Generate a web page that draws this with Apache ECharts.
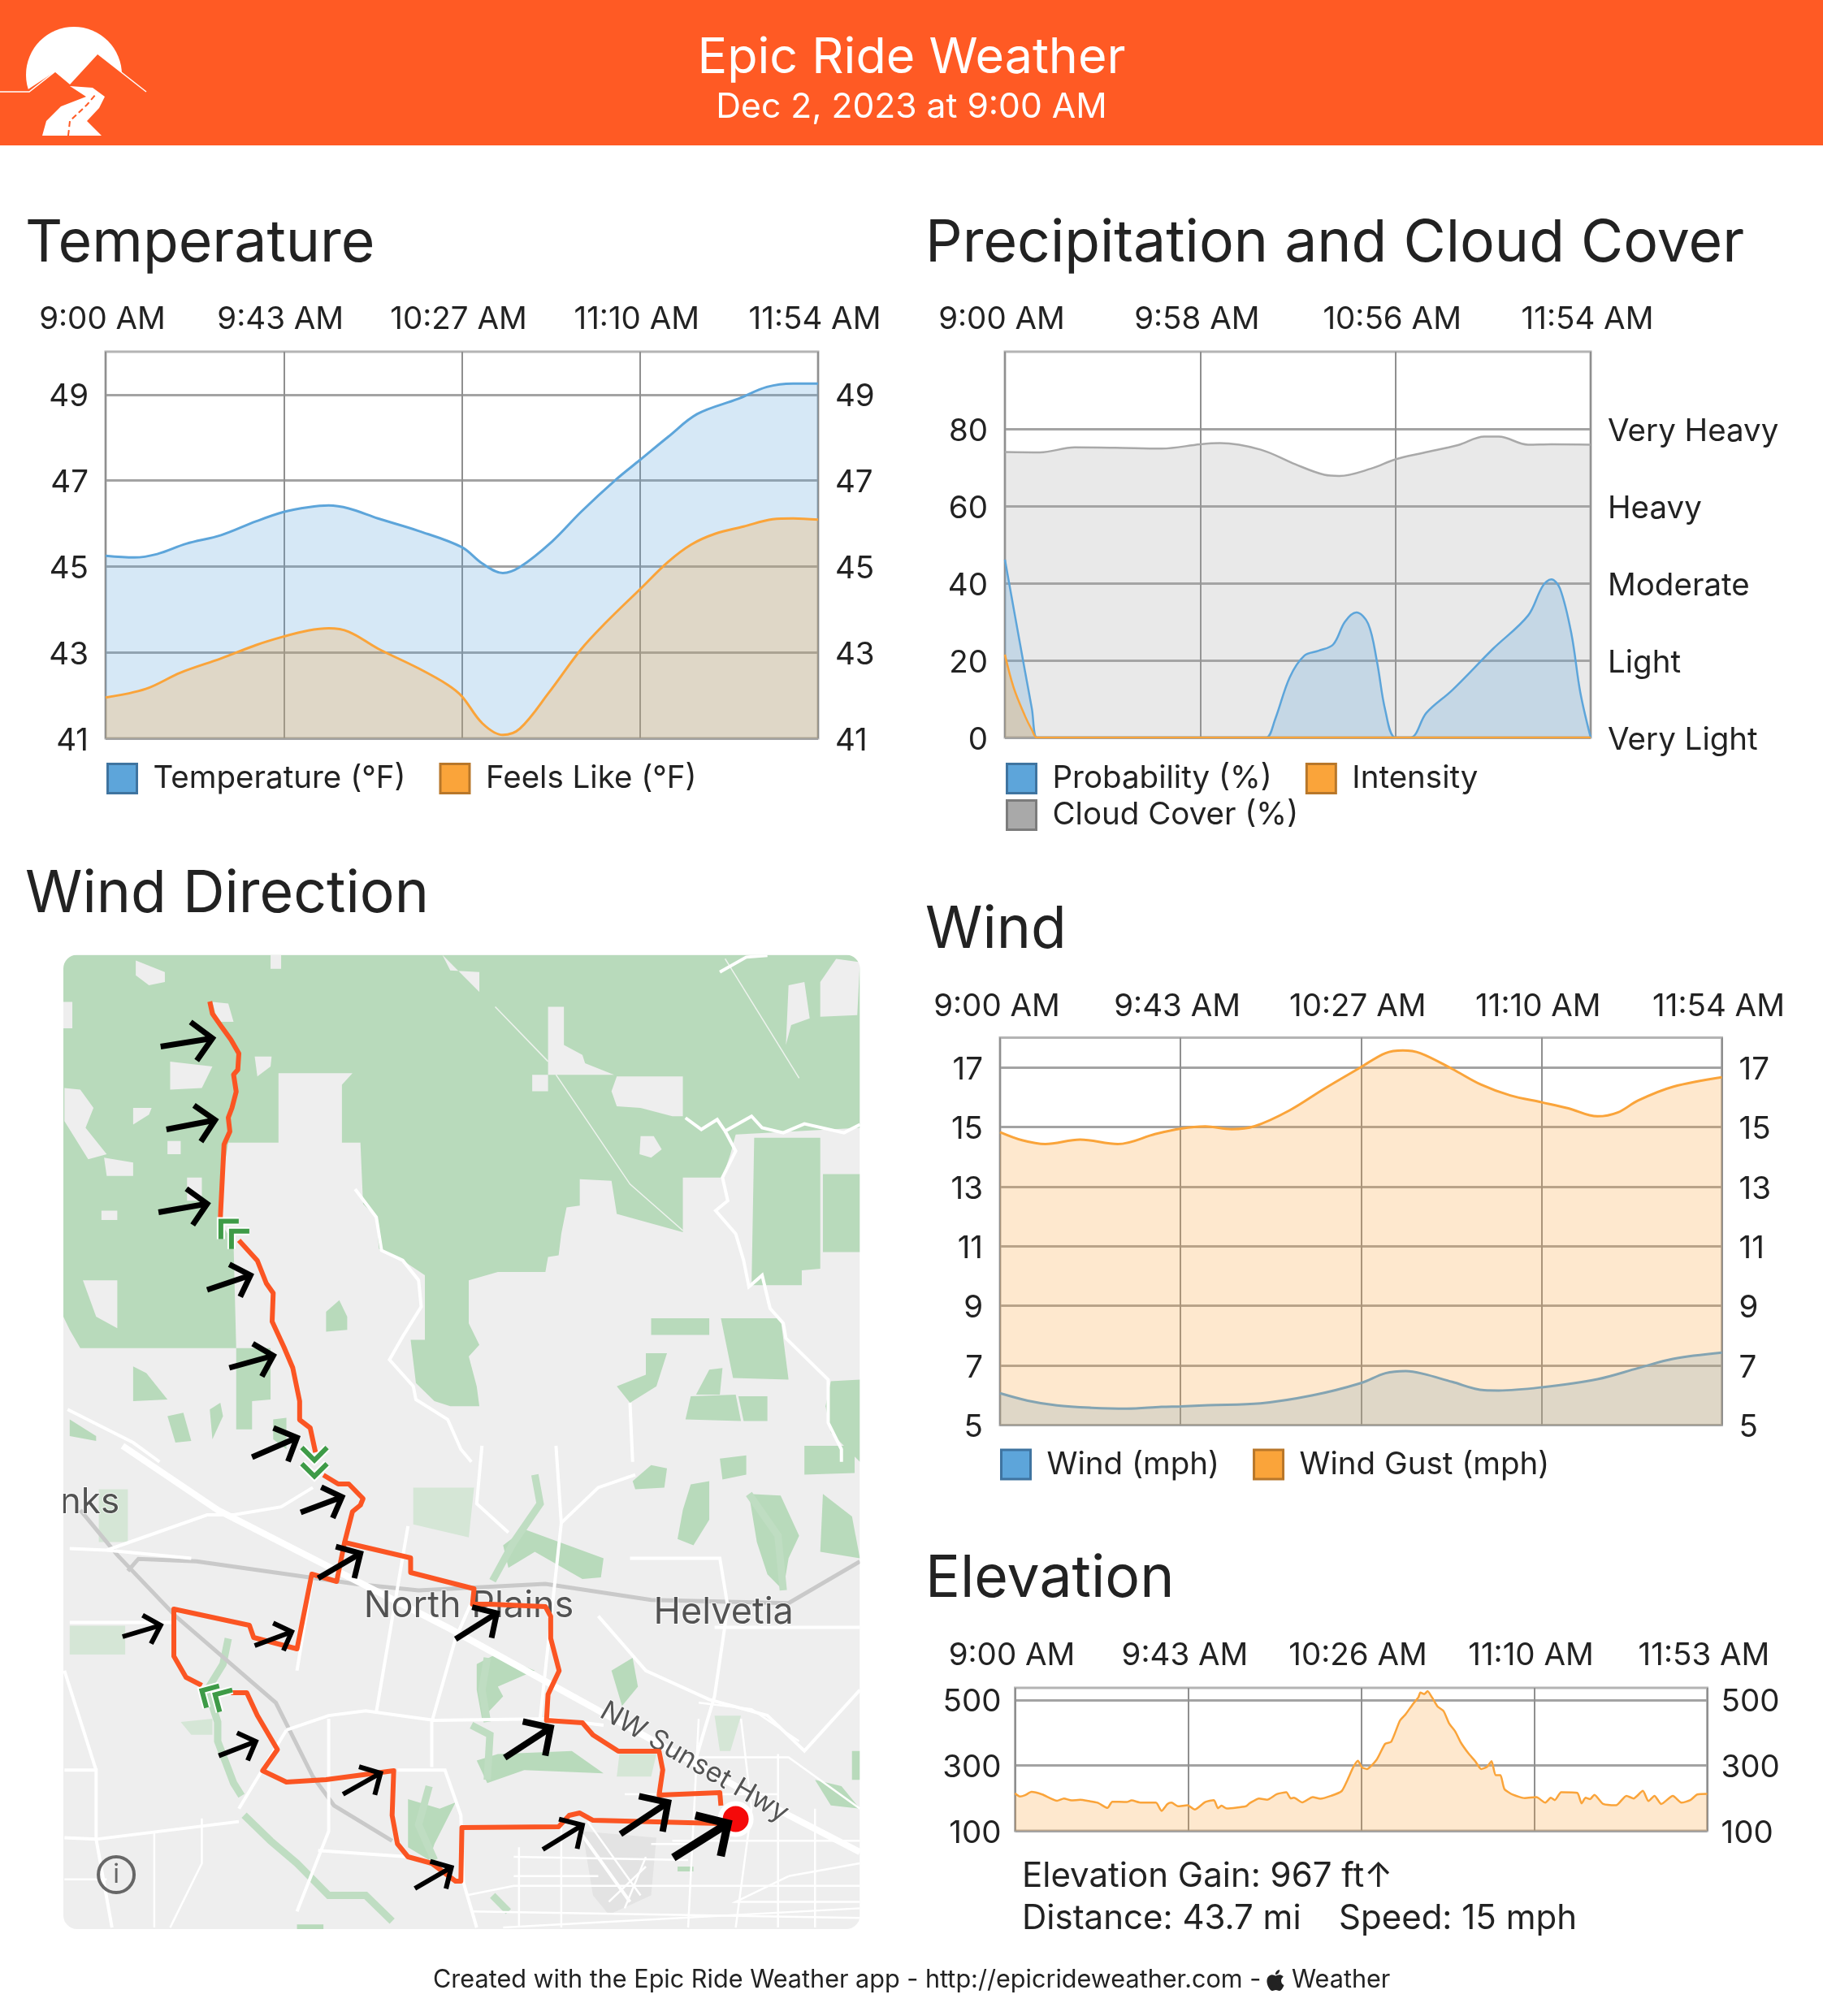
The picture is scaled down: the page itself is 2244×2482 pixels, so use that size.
<!DOCTYPE html>
<html>
<head>
<meta charset="utf-8">
<title>Epic Ride Weather</title>
<script src="https://cdn.jsdelivr.net/npm/echarts@6/dist/echarts.min.js"></script>
<style>
    html, body { margin: 0; padding: 0; background: #fff; }
    #chart { width: 2244px; height: 2482px; }
</style>
</head>
<body>
<div id="chart"></div>
<script>
// temperature, x is minutes after 9:00 AM
var tempTicks = [0, 43.5, 87, 130.5, 174];
var tempTickLabels = ['9:00 AM', '9:43 AM', '10:27 AM', '11:10 AM', '11:54 AM'];
var tempLevels = [41, 43, 45, 47, 49];
var tempMinutes = [0, 7, 12.6, 19.7, 28.2, 36.7, 43.5, 49.5, 54.5, 59.4, 66.5, 76.4, 87, 92, 97, 101.2, 109, 116.1, 124.6, 130.5, 137.4, 144.5, 154.4, 161.5, 167.9, 174];
var tempValues = [45.25, 45.21, 45.29, 45.53, 45.73, 46.05, 46.27, 46.38, 46.42, 46.35, 46.12, 45.83, 45.45, 45.07, 44.85, 44.99, 45.58, 46.27, 47.02, 47.48, 48.02, 48.55, 48.9, 49.18, 49.26, 49.26];
var feelsMinutes = [0, 9.8, 18.3, 28.2, 36.7, 43.5, 49.5, 54.5, 59.4, 66.5, 76.4, 83.5, 87, 92, 97, 101.2, 108.3, 116.1, 121.8, 130.5, 137.4, 143, 148.8, 155.8, 162.9, 167.9, 174];
var feelsValues = [41.95, 42.15, 42.53, 42.86, 43.17, 43.37, 43.51, 43.56, 43.48, 43.09, 42.63, 42.25, 41.98, 41.35, 41.08, 41.23, 42.07, 43.07, 43.66, 44.47, 45.11, 45.51, 45.76, 45.93, 46.1, 46.12, 46.09];

// precipitation and cloud cover
var precipTicks = [0, 58, 116, 174];
var precipTickLabels = ['9:00 AM', '9:58 AM', '10:56 AM', '11:54 AM'];
var precipLevels = [0, 20, 40, 60, 80];
var intensityNames = ['Very Light', 'Light', 'Moderate', 'Heavy', 'Very Heavy'];
var cloudMinutes = [0, 10.4, 20.7, 32.8, 46.6, 58, 63.9, 76, 86.3, 94.9, 99.3, 108.8, 116, 124.3, 134.6, 142.4, 146.7, 155.4, 162.3, 174];
var cloudValues = [74, 73.9, 75.2, 75.1, 74.9, 76, 76.3, 74.6, 70.8, 68.1, 67.8, 69.7, 72.1, 73.8, 75.8, 78, 78, 75.9, 76, 75.9];
var probMinutes = [0, 3, 6, 8, 9.5, 12, 75, 77.7, 80.3, 84.6, 88.9, 93.2, 97.5, 101, 104.4, 107.9, 110.5, 113, 116, 120.5, 125.2, 132.9, 145, 155.4, 159.7, 162.3, 164.9, 168.3, 170.9, 174];
var probValues = [46.1, 31.5, 17, 7.5, 0, 0, 0, 0, 4.8, 15.6, 21.2, 22.5, 24.1, 30, 32.4, 29.5, 19.8, 7, 0, 0, 6.4, 12.3, 23, 31.6, 39.2, 41, 38.6, 26.8, 11.8, 0];
var intensityMinutes = [0, 2.6, 6, 8, 9.5, 12, 174];
var intensityValues = [21.5, 12.9, 5.5, 2, 0, 0, 0];

// wind
var windTicks = [0, 43.5, 87, 130.5, 174];
var windTickLabels = ['9:00 AM', '9:43 AM', '10:27 AM', '11:10 AM', '11:54 AM'];
var windLevels = [5, 7, 9, 11, 13, 15, 17];
var windMinutes = [0, 6.7, 13.7, 22.1, 30.5, 38.9, 43.6, 50.2, 62.8, 75.4, 87, 92.9, 97.8, 102, 109, 116.7, 120.2, 130.6, 144, 153.8, 162.2, 174];
var windValues = [6.07, 5.82, 5.66, 5.58, 5.55, 5.61, 5.63, 5.67, 5.73, 6, 6.41, 6.74, 6.81, 6.72, 6.45, 6.17, 6.16, 6.27, 6.54, 6.91, 7.22, 7.43];
var gustMinutes = [0, 5.3, 10.9, 19.3, 28.4, 37.5, 43.6, 49.5, 55.8, 61.4, 69.8, 78.2, 87, 92.9, 97.1, 101.3, 109, 116, 123, 130.6, 137, 144, 148.9, 153.8, 162.2, 174];
var gustValues = [14.83, 14.56, 14.43, 14.58, 14.43, 14.77, 14.95, 15.02, 14.93, 15.03, 15.56, 16.29, 17.01, 17.48, 17.57, 17.48, 16.95, 16.42, 16.06, 15.83, 15.63, 15.36, 15.49, 15.89, 16.35, 16.67];

// elevation
var elevTicks = [0, 43.25, 86.5, 129.75, 173];
var elevTickLabels = ['9:00 AM', '9:43 AM', '10:26 AM', '11:10 AM', '11:53 AM'];
var elevLevels = [100, 300, 500];
var elevMinutes = [0, 1.2, 2.5, 4.1, 6.8, 10.5, 12.2, 14.1, 16.3, 18.4, 20.6, 23.1, 24.3, 27.9, 29.1, 31.5, 35.2, 36.6, 38.1, 39.1, 40.7, 43.1, 44.9, 47.5, 49.7, 50.7, 51.6, 52.9, 57.7, 58.7, 61, 63, 65.4, 67.8, 68.9, 69.7, 71.8, 74.4, 76.3, 79, 81.6, 83.1, 84.5, 85.7, 86.7, 87.9, 90.4, 92.5, 94, 96.2, 97.6, 99.4, 100.8, 101.3, 102.3, 103.1, 104.2, 105.6, 107.1, 108.5, 110, 111.4, 113.3, 115, 116.5, 118, 119.1, 120.1, 121.3, 122.3, 124.5, 127.4, 130.3, 132.5, 133.9, 134.9, 136.5, 140.5, 141.6, 142.6, 143.7, 144.8, 147, 150.2, 152.8, 154.6, 156.9, 158.3, 159.8, 161.5, 164.4, 166.6, 168.8, 170.5, 173];
var elevValues = [215, 205, 209, 219, 211, 192, 199, 193, 195, 191, 186, 170, 189, 188, 193, 186, 186, 161, 182, 186, 175, 178, 165, 188, 194, 169, 177, 168, 175, 185, 199, 195, 212, 218, 199, 201, 187, 203, 198, 207, 221, 256, 294, 314, 294, 289, 318, 366, 372, 437, 456, 487, 508, 523, 518, 527, 508, 480, 466, 428, 404, 370, 337, 313, 289, 296, 313, 270, 270, 228, 210, 200, 203, 186, 201, 194, 218, 216, 184, 201, 197, 210, 182, 178, 207, 199, 222, 191, 207, 182, 207, 186, 194, 211, 213];

// map shapes, x across the map, y down the map
var northParks = [
    [[28, 38], [1535, 38], [1535, 560], [1300, 580], [1290, 640], [1275, 710], [1200, 710], [1200, 875], [1075, 820], [1065, 720], [1005, 715], [1005, 795], [980, 800], [970, 880], [965, 945], [945, 950], [940, 995], [850, 995], [795, 1020], [795, 1150], [815, 1215], [795, 1250], [810, 1340], [815, 1400], [760, 1400], [730, 1385], [695, 1330], [685, 1200], [712, 1200], [712, 1005], [670, 960], [625, 925], [620, 830], [595, 790], [590, 605], [555, 605], [555, 430], [575, 395], [435, 395], [435, 605], [340, 605], [330, 700], [320, 830], [350, 910], [355, 1225], [60, 1225], [40, 1170], [28, 1130]],
    [[1335, 590], [1460, 590], [1460, 985], [1425, 990], [1425, 1035], [1330, 1035]],
    [[1465, 700], [1535, 700], [1535, 935], [1465, 935]],
    [[1140, 1135], [1250, 1135], [1250, 1185], [1140, 1185]],
    [[1272, 1135], [1385, 1135], [1400, 1320], [1295, 1315]],
    [[1130, 1240], [1170, 1240], [1150, 1340], [1100, 1390], [1075, 1340], [1130, 1305]],
    [[1205, 1440], [1215, 1370], [1300, 1365], [1310, 1445]],
    [[1305, 1370], [1360, 1370], [1360, 1445], [1315, 1445]],
    [[1250, 1290], [1275, 1285], [1270, 1365], [1225, 1365]],
    [[1480, 1325], [1535, 1320], [1535, 1568], [1480, 1480], [1470, 1400]],
    [[355, 1225], [420, 1225], [420, 1380], [385, 1385], [385, 1470], [355, 1470]],
    [[160, 1280], [185, 1300], [225, 1380], [160, 1385]],
    [[525, 1115], [550, 1080], [565, 1130], [565, 1170], [525, 1175]],
    [[225, 1430], [255, 1420], [270, 1505], [240, 1510]],
    [[305, 1410], [325, 1390], [330, 1430], [310, 1500]],
    [[40, 1440], [90, 1490], [90, 1505], [40, 1490]],
    [[425, 1440], [450, 1435], [450, 1530], [425, 1500]]
];
var northClearings = [
    [[945, 195], [975, 195], [975, 310], [1010, 340], [1015, 365], [1070, 400], [945, 400]],
    [[1075, 405], [1200, 405], [1200, 525], [1180, 525], [1120, 500], [1075, 495], [1065, 450]],
    [[915, 400], [945, 400], [945, 450], [915, 450]],
    [[230, 360], [310, 375], [290, 440], [230, 445]],
    [[1400, 130], [1430, 120], [1440, 230], [1405, 250], [1395, 310]],
    [[1490, 50], [1535, 60], [1530, 220], [1460, 225], [1460, 120]],
    [[30, 440], [60, 445], [85, 500], [70, 560], [110, 640], [75, 655], [30, 540]],
    [[105, 650], [160, 665], [160, 705], [110, 705]],
    [[65, 1020], [130, 1020], [130, 1165], [90, 1130]],
    [[165, 55], [220, 90], [220, 120], [190, 130], [165, 100]],
    [[745, 38], [815, 150], [815, 90], [760, 85]],
    [[420, 38], [440, 38], [440, 80], [420, 80]],
    [[28, 180], [45, 180], [45, 260], [28, 260]],
    [[160, 500], [195, 500], [190, 520], [160, 550]],
    [[225, 600], [250, 600], [250, 640], [225, 640]],
    [[100, 810], [130, 810], [130, 838], [100, 838]],
    [[262, 710], [290, 710], [290, 780], [262, 780]],
    [[310, 180], [340, 185], [350, 240], [320, 240]],
    [[390, 345], [422, 345], [420, 375], [395, 405]],
    [[1120, 585], [1145, 585], [1160, 625], [1140, 650], [1118, 640]]
];
var southParks = [
    [[1105, 110], [1140, 60], [1170, 70], [1165, 130], [1110, 135]],
    [[1270, 40], [1320, 30], [1320, 90], [1275, 105]],
    [[1430, 0], [1525, 0], [1525, 85], [1430, 90]],
    [[1190, 290], [1200, 200], [1215, 120], [1250, 110], [1250, 230], [1220, 310]],
    [[1325, 150], [1385, 155], [1420, 280], [1400, 350], [1390, 450], [1360, 400], [1340, 300]],
    [[1465, 150], [1520, 220], [1535, 350], [1460, 330]],
    [[860, 310], [900, 260], [1050, 350], [1045, 410], [1010, 415], [920, 330], [870, 380]],
    [[810, 680], [845, 650], [920, 700], [850, 750], [860, 780], [820, 850], [810, 760]],
    [[1065, 700], [1105, 660], [1115, 750], [1085, 810]],
    [[810, 980], [850, 960], [990, 950], [1050, 1020], [900, 1010], [830, 1050]],
    [[680, 1100], [740, 1130], [770, 1110], [730, 1240], [720, 1290], [680, 1250]],
    [[1450, 1040], [1500, 1060], [1535, 1130], [1480, 1120]],
    [[1520, 950], [1535, 950], [1535, 1040], [1520, 1040]],
    [[470, 1490], [520, 1490], [520, 1505], [470, 1505]],
    [[1190, 1310], [1220, 1310], [1220, 1325], [1190, 1325]]
];
var southCreeks = [
    [[340, 600], [330, 680], [300, 760], [320, 860], [320, 920], [350, 1050], [365, 1090]],
    [[370, 1150], [420, 1230], [470, 1300], [530, 1400], [600, 1400], [650, 1480]],
    [[920, 90], [930, 180], [880, 300], [840, 420]],
    [[830, 660], [820, 760], [830, 860]],
    [[800, 870], [835, 900], [830, 1040]],
    [[1325, 150], [1380, 280], [1390, 450]],
    [[720, 1060], [700, 1180], [730, 1290]],
    [[840, 1400], [870, 1450]]
];
var southPaleParks = [
    [[690, 130], [805, 130], [795, 285], [690, 245]],
    [[40, 560], [145, 560], [145, 650], [40, 650]],
    [[250, 860], [310, 850], [310, 900], [270, 900]],
    [[95, 135], [150, 135], [150, 300], [95, 300]],
    [[1080, 960], [1150, 960], [1140, 1030], [1075, 1030]],
    [[1260, 840], [1310, 840], [1290, 950], [1270, 950]]
];
var southAirport = [
    [[1010, 1200], [1150, 1220], [1140, 1400], [1060, 1460], [1030, 1400]]
];
var northMajorRoads = [
    [[1270, 90], [1320, 45], [1360, 40]],
    [[1205, 530], [1235, 565], [1265, 535], [1280, 570], [1330, 525], [1350, 560], [1390, 575], [1430, 548], [1505, 575], [1535, 550]],
    [[1280, 570], [1300, 630], [1275, 710], [1285, 780], [1262, 810], [1300, 880], [1315, 960], [1325, 1040], [1350, 1005], [1365, 1105], [1390, 1150], [1395, 1195], [1475, 1320], [1475, 1450], [1500, 1530], [1500, 1568]],
    [[580, 745], [620, 830], [630, 930], [670, 960], [700, 1020], [705, 1100], [670, 1190], [645, 1260], [690, 1340], [695, 1380], [755, 1440], [780, 1530], [800, 1568]],
    [[1100, 1390], [1105, 1568]],
    [[36, 1410], [160, 1510], [210, 1568]]
];
var northThinRoads = [
    [[845, 195], [945, 360]],
    [[960, 400], [1100, 730], [1200, 870]],
    [[1280, 50], [1420, 410]]
];
var southHighways = [
    [[140, 0], [320, 200], [760, 570], [1400, 1150], [1535, 1265]]
];
var southMajorRoads = [
    [[40, 320], [110, 325], [270, 350]],
    [[110, 325], [300, 215], [350, 215], [440, 190], [500, 130]],
    [[450, 885], [530, 840], [600, 825], [730, 855], [950, 850], [1050, 870]],
    [[360, 1130], [450, 885]],
    [[360, 1170], [90, 1225], [30, 1220]],
    [[725, 1000], [725, 860], [770, 600], [810, 450]],
    [[620, 830], [680, 250]],
    [[470, 1450], [530, 1200], [530, 850]],
    [[470, 700], [500, 400]],
    [[40, 550], [240, 550]],
    [[1260, 565], [1535, 565]],
    [[1100, 350], [1270, 350], [1285, 500], [1260, 780], [1220, 1000]],
    [[1040, 530], [1130, 700], [1250, 790], [1360, 840], [1430, 950], [1535, 760]],
    [[820, 0], [810, 180], [870, 270]],
    [[960, 0], [970, 240], [930, 850]],
    [[970, 240], [1040, 130], [1110, 90]],
    [[660, 1010], [750, 1010], [780, 1150], [785, 1360], [810, 1500]],
    [[510, 1260], [680, 1280]],
    [[30, 1010], [90, 1010], [90, 1225], [120, 1500]],
    [[30, 700], [90, 1010]],
    [[1000, 1190], [1100, 1420]]
];
var southStreets = [
    [[790, 1400], [880, 1370], [1535, 1370]],
    [[880, 1280], [1210, 1290]],
    [[1230, 850], [1210, 1500]],
    [[1380, 960], [1380, 1500]],
    [[1220, 970], [1400, 970], [1535, 1130]],
    [[1090, 1085], [1380, 1085]],
    [[890, 1250], [890, 1500]],
    [[970, 1180], [970, 1500]],
    [[30, 1350], [110, 1350]],
    [[200, 1200], [200, 1500]],
    [[290, 1160], [290, 1300], [230, 1500]],
    [[1020, 1170], [1120, 1400]],
    [[1130, 1280], [1090, 1440]],
    [[1310, 850], [1330, 1130], [1300, 1500]],
    [[1400, 1340], [1535, 1300]],
    [[1400, 1340], [1300, 1420], [1535, 1420]],
    [[860, 1500], [1535, 1440]],
    [[880, 1340], [1040, 1340]],
    [[1180, 1230], [1535, 1230]],
    [[1450, 1130], [1450, 1500]],
    [[1140, 1240], [1230, 1240]],
    [[800, 1450], [1535, 1470]],
    [[1230, 800], [1330, 820], [1420, 920]],
    [[1130, 1310], [1060, 1420]]
];
var southRails = [
    [[60, 200], [130, 340], [240, 530], [430, 800], [500, 1030], [540, 1120], [650, 1230]],
    [[150, 390], [170, 352], [280, 360], [580, 430], [700, 450], [940, 430], [1140, 480], [1400, 490], [1535, 360]]
];

// route and wind marks
var routeNorth = [[305, 73], [310, 88], [325, 102], [345, 120], [360, 137], [358, 157], [350, 163], [355, 184], [347, 204], [340, 216], [343, 233], [332, 249], [325, 339]];
var routeMiddle = [[360, 367], [395, 392], [412, 420], [425, 432], [423, 467], [445, 498], [462, 524], [475, 565], [475, 588], [495, 598], [505, 628]];
var routeLoopEast = [[520, 656], [548, 667], [568, 667], [595, 685], [590, 693], [575, 701], [560, 739], [685, 758], [685, 776], [805, 796], [802, 815], [835, 815], [940, 818], [950, 830], [950, 857], [966, 897], [945, 926], [942, 958], [1010, 961], [1030, 976], [1078, 996], [1155, 996], [1162, 1019], [1155, 1050], [1270, 1047], [1272, 1063]];
var routeReturn = [[1270, 1085], [1030, 1081], [1005, 1072], [985, 1075], [965, 1089], [782, 1090], [780, 1156], [770, 1156], [725, 1134], [680, 1126], [660, 1110], [650, 1075], [653, 1020], [525, 1031], [450, 1034], [405, 1020], [433, 994], [395, 952], [375, 924], [345, 924]];
var routeWest = [[290, 915], [260, 905], [237, 879], [237, 821], [380, 841], [388, 856], [470, 870], [498, 778], [545, 787], [560, 739]];
var finishPoint = [[1300, 1079.5]];
var infoPoint = [[128, 1148]];
var windArrows = [
    [212, 128.5, 310, 118.3, 7], [223, 230.5, 315, 219, 7], [208, 332.5, 300, 322, 7],
    [300, 428, 382, 410, 7], [342, 524, 425, 509, 7], [385, 634, 470, 610, 7],
    [477, 702, 555, 683, 7], [510, 783, 590, 752.5, 7], [140, 855, 212, 841, 6],
    [390, 866, 460, 849, 6], [770, 858, 848, 826, 7], [322, 1001.6, 392, 984, 6],
    [863, 1004, 950, 967, 8], [557, 1049, 628, 1023, 6], [693, 1165, 762, 1139, 6],
    [935, 1117, 1010, 1087, 6], [1082, 1098, 1172, 1059, 8], [1182, 1127, 1285, 1085, 10]
];
var routeChevrons = [
    [326, 343.5, -135], [346, 355.8, -135],
    [503, 637.8, 90], [503, 657.6, 90],
    [290, 921.3, -150], [315, 926.4, -150]
];
var mapLabels = [
    ['nks', 78, 690, 0, 44],
    ['North Plains', 795, 817, 0, 45],
    ['Helvetia', 1277, 825, 0, 45],
    ['NW Sunset Hwy', 1222, 1009.5, -30, 34]
];

var FONT = 'Inter';
var TEXT_COLOR = '#222222';
var BLUE = '#5DA5DA';
var ORANGE = '#FAA43A';
var GRAY = '#A9A9A9';
var HEADER = '#FF5A24';
var ROUTE = '#FB5523';
var APPLE_PATH = 'M18.71 19.5c-.83 1.24-1.71 2.45-3.05 2.47-1.34.03-1.77-.79-3.29-.79-1.53 0-2 .77-3.27.82-1.31.05-2.3-1.32-3.14-2.53C4.25 17 2.94 12.45 4.7 9.39c.87-1.52 2.43-2.48 4.12-2.51 1.28-.02 2.5.87 3.29.87.78 0 2.26-1.07 3.81-.91.65.03 2.47.26 3.64 1.98-.09.06-2.17 1.28-2.15 3.81.03 3.02 2.65 4.03 2.68 4.04-.03.07-.42 1.44-1.38 2.83M13 3.5c.73-.83 1.94-1.46 2.94-1.5.13 1.17-.34 2.35-1.04 3.19-.69.85-1.83 1.51-2.95 1.42-.15-1.15.41-2.35 1.05-3.11z';

function toNorth(p) {
    return [p[0], p[1] * 0.408];
}

function toSouth(p) {
    return [p[0], p[1] * 0.3954 + 620];
}

function convert(list, fn) {
    return list.map(function (shape) {
        return shape.map(fn);
    });
}

function zip(xs, ys) {
    return xs.map(function (x, i) {
        return [x, ys[i]];
    });
}

function timeAxis(gridIndex, ticks, labels, max, margin) {
    return {
        type: 'value',
        gridIndex: gridIndex,
        position: 'top',
        min: 0,
        max: max,
        axisLine: {show: false},
        axisTick: {show: false, customValues: ticks},
        splitLine: {show: true, lineStyle: {color: '#8f8f8f', width: 2}},
        axisLabel: {
            customValues: ticks,
            margin: margin,
            padding: [0, 8, 0, 0],
            fontSize: 38.5,
            fontFamily: FONT,
            color: TEXT_COLOR,
            formatter: function (v) {
                return labels[ticks.indexOf(v)];
            }
        }
    };
}

function levelAxis(gridIndex, position, levels, min, max, formatter, hideLines) {
    return {
        type: 'value',
        gridIndex: gridIndex,
        position: position,
        min: min,
        max: max,
        axisLine: {show: false},
        axisTick: {show: false, customValues: levels},
        splitLine: {show: !hideLines, lineStyle: {color: '#a3a3a3', width: 3}},
        axisLabel: {
            customValues: levels,
            margin: gridIndex === 3 ? 17 : 21,
            verticalAlign: 'top',
            lineHeight: 6,
            fontSize: 38.5,
            fontFamily: FONT,
            color: TEXT_COLOR,
            formatter: formatter
        }
    };
}

function areaSeries(name, gridIndex, data, color, width, z) {
    return {
        name: name,
        type: 'line',
        xAxisIndex: gridIndex,
        yAxisIndex: gridIndex * 2,
        z: z,
        data: data,
        smooth: 0.35,
        symbol: 'none',
        lineStyle: {color: color, width: width},
        itemStyle: {color: color},
        areaStyle: {color: color, opacity: 0.25}
    };
}

function legendBox(name, color, border) {
    return {name: name, icon: 'rect', itemStyle: {color: color, borderColor: border, borderWidth: 3}};
}

function legendAt(left, top, items) {
    return {
        left: left,
        top: top,
        padding: 0,
        itemWidth: 36,
        itemHeight: 36,
        itemGap: 41,
        selectedMode: false,
        lineStyle: {width: 0, opacity: 0},
        textStyle: {fontSize: 38.5, fontFamily: FONT, color: TEXT_COLOR, padding: [0, 0, 0, 15]},
        data: items
    };
}

function sectionTitle(text, left, top) {
    return {
        text: text,
        left: left,
        top: top,
        padding: 0,
        textStyle: {fontSize: 71.5, fontWeight: 'normal', fontFamily: FONT, color: '#222222'}
    };
}

// custom layer that draws a list of shapes through the map axes
function mapLayer(name, shapes, closed, style, z) {
    return {
        name: name,
        type: 'custom',
        coordinateSystem: 'cartesian2d',
        xAxisIndex: 4,
        yAxisIndex: 8,
        clip: true,
        silent: true,
        z: z,
        data: shapes.map(function (s, i) {
            return [i];
        }),
        renderItem: function (params, api) {
            var points = shapes[params.dataIndex].map(function (p) {
                return api.coord(p);
            });
            return {
                type: closed ? 'polygon' : 'polyline',
                shape: {points: points},
                style: style
            };
        }
    };
}

function routeSeries(data) {
    return {
        type: 'line',
        xAxisIndex: 4,
        yAxisIndex: 8,
        data: data,
        symbol: 'none',
        silent: true,
        z: 6,
        lineStyle: {color: ROUTE, width: 6, join: 'round'}
    };
}

function renderArrow(params, api) {
    var a = windArrows[params.dataIndex];
    var tail = api.coord([a[0], a[1]]);
    var tip = api.coord([a[2], a[3]]);
    var back = Math.atan2(tail[1] - tip[1], tail[0] - tip[0]);
    var len = Math.sqrt(Math.pow(tail[0] - tip[0], 2) + Math.pow(tail[1] - tip[1], 2));
    var barb = len * 0.52;
    var style = {stroke: '#000000', lineWidth: a[4], fill: null};
    return {
        type: 'group',
        children: [{
            type: 'polyline',
            shape: {points: [tail, tip]},
            style: style
        }, {
            type: 'polyline',
            shape: {points: [
                [tip[0] + barb * Math.cos(back - 0.8), tip[1] + barb * Math.sin(back - 0.8)],
                tip,
                [tip[0] + barb * Math.cos(back + 0.8), tip[1] + barb * Math.sin(back + 0.8)]
            ]},
            style: style
        }]
    };
}

function renderChevron(params, api) {
    var c = routeChevrons[params.dataIndex];
    var tip = api.coord([c[0], c[1]]);
    var back = (c[2] + 180) * Math.PI / 180;
    var arm = 22;
    var points = [
        [tip[0] + arm * Math.cos(back - 0.785), tip[1] + arm * Math.sin(back - 0.785)],
        tip,
        [tip[0] + arm * Math.cos(back + 0.785), tip[1] + arm * Math.sin(back + 0.785)]
    ];
    return {
        type: 'group',
        children: [{
            type: 'polyline',
            shape: {points: points},
            style: {stroke: '#ffffff', lineWidth: 10, fill: null}
        }, {
            type: 'polyline',
            shape: {points: points},
            style: {stroke: '#3E9B47', lineWidth: 6, fill: null}
        }]
    };
}

var option = {
    animation: false,
    backgroundColor: '#ffffff',
    title: [
        sectionTitle('Temperature', 31, 264),
        sectionTitle('Precipitation and Cloud Cover', 1139, 264),
        sectionTitle('Wind Direction', 31, 1065),
        sectionTitle('Wind', 1139, 1109),
        sectionTitle('Elevation', 1139, 1908)
    ],
    grid: [
        {left: 130, top: 433, width: 877, height: 476, show: true, borderColor: '#b4b4b4', borderWidth: 3},
        {left: 1237, top: 433, width: 721, height: 475, show: true, borderColor: '#b4b4b4', borderWidth: 3},
        {left: 1231, top: 1277.5, width: 888.5, height: 477, show: true, borderColor: '#b4b4b4', borderWidth: 3},
        {left: 1249.5, top: 2078, width: 852, height: 176, show: true, borderColor: '#b4b4b4', borderWidth: 3},
        {left: 78, top: 1175.5, width: 980.5, height: 1199.5, show: true, backgroundColor: '#EEEEEE', borderWidth: 0}
    ],
    xAxis: [
        timeAxis(0, tempTicks, tempTickLabels, 174, 20),
        timeAxis(1, precipTicks, precipTickLabels, 174, 20),
        timeAxis(2, windTicks, windTickLabels, 174, 19),
        timeAxis(3, elevTicks, elevTickLabels, 173, 20),
        {type: 'value', gridIndex: 4, show: false, min: 28, max: 1535}
    ],
    yAxis: [
        levelAxis(0, 'left', tempLevels, 41, 50),
        levelAxis(0, 'right', tempLevels, 41, 50, null, true),
        levelAxis(1, 'left', precipLevels, 0, 100),
        levelAxis(1, 'right', precipLevels, 0, 100, function (v) {
            return intensityNames[precipLevels.indexOf(v)];
        }, true),
        levelAxis(2, 'left', windLevels, 5, 18),
        levelAxis(2, 'right', windLevels, 5, 18, null, true),
        levelAxis(3, 'left', elevLevels, 100, 537),
        levelAxis(3, 'right', elevLevels, 100, 537, null, true),
        {type: 'value', gridIndex: 4, show: false, inverse: true, min: 15.5, max: 1215}
    ],
    legend: [
        legendAt(131, 939, [legendBox('Temperature (°F)', BLUE, '#3F74A0'), legendBox('Feels Like (°F)', ORANGE, '#B8772A')]),
        legendAt(1238, 939, [legendBox('Probability (%)', BLUE, '#3F74A0'), legendBox('Intensity', ORANGE, '#B8772A')]),
        legendAt(1238, 984, [legendBox('Cloud Cover (%)', GRAY, '#7C7C7C')]),
        legendAt(1231, 1783.5, [legendBox('Wind (mph)', BLUE, '#3F74A0'), legendBox('Wind Gust (mph)', ORANGE, '#B8772A')])
    ],
    series: [
        areaSeries('Temperature (°F)', 0, zip(tempMinutes, tempValues), BLUE, 3, 2),
        areaSeries('Feels Like (°F)', 0, zip(feelsMinutes, feelsValues), ORANGE, 3, 3),
        areaSeries('Cloud Cover (%)', 1, zip(cloudMinutes, cloudValues), GRAY, 2.5, 2),
        areaSeries('Probability (%)', 1, zip(probMinutes, probValues), BLUE, 2.5, 3),
        areaSeries('Intensity', 1, zip(intensityMinutes, intensityValues), ORANGE, 2.5, 4),
        areaSeries('Wind (mph)', 2, zip(windMinutes, windValues), BLUE, 3, 2),
        areaSeries('Wind Gust (mph)', 2, zip(gustMinutes, gustValues), ORANGE, 3, 3),
        {
            name: 'Elevation',
            type: 'line',
            xAxisIndex: 3,
            yAxisIndex: 6,
            data: zip(elevMinutes, elevValues),
            symbol: 'none',
            smooth: 0.2,
            lineStyle: {color: ORANGE, width: 2.5},
            areaStyle: {color: ORANGE, opacity: 0.25}
        },
        mapLayer('palePark', convert(southPaleParks, toSouth), true, {fill: '#D5E6D6'}, 1),
        mapLayer('airport', convert(southAirport, toSouth), true, {fill: '#E3E3E3'}, 1),
        mapLayer('park', convert(northParks, toNorth).concat(convert(southParks, toSouth)), true, {fill: '#B8DABB'}, 2),
        mapLayer('creek', convert(southCreeks, toSouth), false, {stroke: '#BFDDC2', lineWidth: 9, fill: null}, 2),
        mapLayer('clearing', convert(northClearings, toNorth), true, {fill: '#EEEEEE'}, 2.5),
        mapLayer('rail', convert(southRails, toSouth), false, {stroke: '#C9C9C9', lineWidth: 5, fill: null}, 3),
        mapLayer('thinRoad', convert(northThinRoads, toNorth), false, {stroke: '#EEF3EE', lineWidth: 1.5, fill: null}, 3),
        mapLayer('street', convert(southStreets, toSouth), false, {stroke: '#FFFFFF', lineWidth: 2.5, fill: null}, 3),
        mapLayer('road', convert(northMajorRoads, toNorth).concat(convert(southMajorRoads, toSouth)), false, {stroke: '#FFFFFF', lineWidth: 4, fill: null}, 4),
        mapLayer('highway', convert(southHighways, toSouth), false, {stroke: '#FFFFFF', lineWidth: 8, fill: null}, 4),
        {
            name: 'labels',
            type: 'scatter',
            xAxisIndex: 4,
            yAxisIndex: 8,
            silent: true,
            z: 5,
            symbolSize: 1,
            itemStyle: {color: 'transparent'},
            data: mapLabels.map(function (m) {
                return {
                    value: [m[1], m[2]],
                    label: {
                        show: true,
                        formatter: m[0],
                        position: 'inside',
                        rotate: m[3],
                        fontSize: m[4],
                        fontFamily: FONT,
                        color: '#2a2a2a',
                        textBorderColor: '#ffffff',
                        textBorderWidth: 2
                    }
                };
            })
        },
        routeSeries(routeNorth),
        routeSeries(routeMiddle),
        routeSeries(routeLoopEast),
        routeSeries(routeReturn),
        routeSeries(routeWest),
        {
            name: 'chevrons',
            type: 'custom',
            coordinateSystem: 'cartesian2d',
            xAxisIndex: 4,
            yAxisIndex: 8,
            silent: true,
            z: 7,
            data: routeChevrons.map(function (c, i) {
                return [i];
            }),
            renderItem: renderChevron
        },
        {
            name: 'finish',
            type: 'scatter',
            xAxisIndex: 4,
            yAxisIndex: 8,
            silent: true,
            z: 7,
            data: finishPoint,
            symbolSize: 38,
            itemStyle: {color: '#F50A0A', borderColor: '#ffffff', borderWidth: 6, opacity: 1}
        },
        {
            name: 'windArrows',
            type: 'custom',
            coordinateSystem: 'cartesian2d',
            xAxisIndex: 4,
            yAxisIndex: 8,
            silent: true,
            z: 8,
            data: windArrows.map(function (a, i) {
                return [i];
            }),
            renderItem: renderArrow
        },
        {
            name: 'info',
            type: 'scatter',
            xAxisIndex: 4,
            yAxisIndex: 8,
            silent: true,
            z: 8,
            data: infoPoint,
            symbolSize: 44,
            itemStyle: {color: 'transparent', borderColor: '#666666', borderWidth: 4, opacity: 1},
            label: {show: true, position: 'inside', formatter: 'i', fontSize: 32, fontFamily: FONT, color: '#666666'}
        },
        {
            name: 'apple',
            type: 'custom',
            coordinateSystem: 'none',
            silent: true,
            data: [[0]],
            renderItem: function () {
                return {
                    type: 'path',
                    shape: {pathData: APPLE_PATH, x: 1559, y: 2425, width: 22, height: 26},
                    style: {fill: '#222222'}
                };
            }
        }
    ],
    graphic: [
        {type: 'rect', z: 0, shape: {x: 0, y: 0, width: 2244, height: 179}, style: {fill: HEADER}},
        {type: 'circle', z: 1, shape: {cx: 91, cy: 92, r: 59}, style: {fill: '#ffffff'}},
        {type: 'polygon', z: 2, shape: {points: [[30, 113], [68, 88], [86, 103], [120, 66], [180, 113], [180, 155], [30, 155]]}, style: {fill: HEADER}},
        {type: 'polyline', z: 3, shape: {points: [[0, 113], [36, 113], [68, 88], [86, 103], [120, 66], [180, 113]]}, style: {stroke: '#ffffff', lineWidth: 1.5, fill: null}},
        {type: 'polygon', z: 3, shape: {points: [[52, 167], [57, 149], [75, 131], [106, 119], [86, 106], [114, 108], [129, 119], [122, 133], [107, 149], [125, 167]]}, style: {fill: '#ffffff'}},
        {type: 'polyline', z: 4, shape: {points: [[84, 167], [86, 149], [107, 129], [118, 116]]}, style: {stroke: HEADER, lineWidth: 2, lineDash: [7, 4], fill: null}},
        {type: 'text', z: 5, style: {x: 1122, y: 72, text: 'Epic Ride Weather', fill: '#ffffff', font: '61px Inter', align: 'center', verticalAlign: 'middle'}},
        {type: 'text', z: 5, style: {x: 1122, y: 132.5, text: 'Dec 2, 2023 at 9:00 AM', fill: '#ffffff', font: '42.6px Inter', align: 'center', verticalAlign: 'middle'}},
        {type: 'rect', z: 100, shape: {x: 71, y: 1168.5, width: 994.5, height: 1213.5, r: 24}, style: {fill: null, stroke: '#ffffff', lineWidth: 14}},
        {type: 'text', z: 5, style: {x: 1258, y: 2310, text: 'Elevation Gain: 967 ft↑', fill: TEXT_COLOR, font: '42px ' + FONT, verticalAlign: 'middle'}},
        {type: 'text', z: 5, style: {x: 1258, y: 2362, text: 'Distance: 43.7 mi', fill: TEXT_COLOR, font: '42px ' + FONT, verticalAlign: 'middle'}},
        {type: 'text', z: 5, style: {x: 1648, y: 2362, text: 'Speed: 15 mph', fill: TEXT_COLOR, font: '42px ' + FONT, verticalAlign: 'middle'}},
        {type: 'text', z: 5, style: {x: 533, y: 2438, text: 'Created with the Epic Ride Weather app - http://epicrideweather.com -', fill: TEXT_COLOR, font: '30.6px ' + FONT, verticalAlign: 'middle'}},
        {type: 'text', z: 5, style: {x: 1590, y: 2438, text: 'Weather', fill: TEXT_COLOR, font: '30.6px ' + FONT, verticalAlign: 'middle'}}
    ]
};

var myChart = echarts.init(document.getElementById('chart'), null, {renderer: 'canvas'});
myChart.setOption(option);
</script>
</body>
</html>
